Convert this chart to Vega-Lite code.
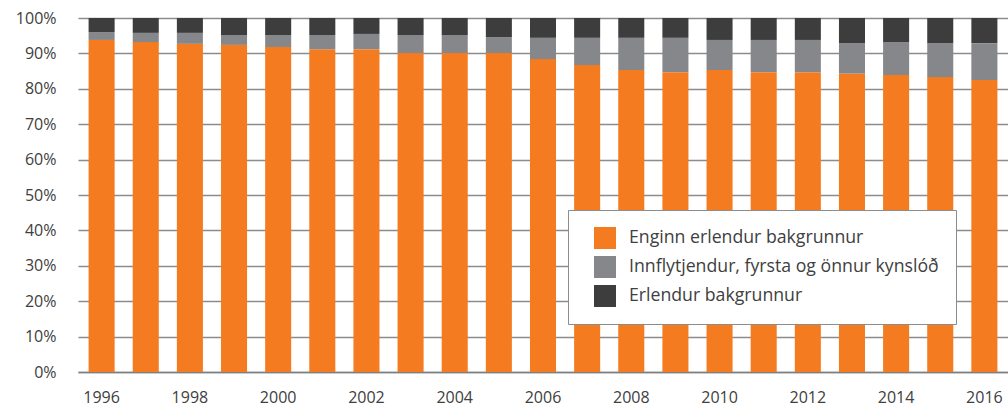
{
  "$schema": "https://vega.github.io/schema/vega-lite/v6.json",
  "autosize": {"type": "none"},
  "padding": {"left": 78, "top": 18, "right": 0, "bottom": 36},
  "width": 930,
  "height": 354,
  "background": "white",
  "config": {
    "view": {"stroke": null},
    "font": "Open Sans",
    "axis": {"labelFont": "Open Sans", "labelColor": "#404040", "labelFontSize": 16}
  },
  "data": {
    "values": [
      {"year": 1996, "cat": "Enginn erlendur bakgrunnur", "v": 93.8},
      {"year": 1996, "cat": "Innflytjendur, fyrsta og önnur kynslóð", "v": 2.2},
      {"year": 1996, "cat": "Erlendur bakgrunnur", "v": 4.0},
      {"year": 1997, "cat": "Enginn erlendur bakgrunnur", "v": 93.2},
      {"year": 1997, "cat": "Innflytjendur, fyrsta og önnur kynslóð", "v": 2.6},
      {"year": 1997, "cat": "Erlendur bakgrunnur", "v": 4.2},
      {"year": 1998, "cat": "Enginn erlendur bakgrunnur", "v": 92.7},
      {"year": 1998, "cat": "Innflytjendur, fyrsta og önnur kynslóð", "v": 3.1},
      {"year": 1998, "cat": "Erlendur bakgrunnur", "v": 4.2},
      {"year": 1999, "cat": "Enginn erlendur bakgrunnur", "v": 92.4},
      {"year": 1999, "cat": "Innflytjendur, fyrsta og önnur kynslóð", "v": 2.8},
      {"year": 1999, "cat": "Erlendur bakgrunnur", "v": 4.8},
      {"year": 2000, "cat": "Enginn erlendur bakgrunnur", "v": 91.8},
      {"year": 2000, "cat": "Innflytjendur, fyrsta og önnur kynslóð", "v": 3.4},
      {"year": 2000, "cat": "Erlendur bakgrunnur", "v": 4.8},
      {"year": 2001, "cat": "Enginn erlendur bakgrunnur", "v": 91.2},
      {"year": 2001, "cat": "Innflytjendur, fyrsta og önnur kynslóð", "v": 4.0},
      {"year": 2001, "cat": "Erlendur bakgrunnur", "v": 4.8},
      {"year": 2002, "cat": "Enginn erlendur bakgrunnur", "v": 91.2},
      {"year": 2002, "cat": "Innflytjendur, fyrsta og önnur kynslóð", "v": 4.3},
      {"year": 2002, "cat": "Erlendur bakgrunnur", "v": 4.5},
      {"year": 2003, "cat": "Enginn erlendur bakgrunnur", "v": 90.1},
      {"year": 2003, "cat": "Innflytjendur, fyrsta og önnur kynslóð", "v": 5.1},
      {"year": 2003, "cat": "Erlendur bakgrunnur", "v": 4.8},
      {"year": 2004, "cat": "Enginn erlendur bakgrunnur", "v": 90.1},
      {"year": 2004, "cat": "Innflytjendur, fyrsta og önnur kynslóð", "v": 5.1},
      {"year": 2004, "cat": "Erlendur bakgrunnur", "v": 4.8},
      {"year": 2005, "cat": "Enginn erlendur bakgrunnur", "v": 90.1},
      {"year": 2005, "cat": "Innflytjendur, fyrsta og önnur kynslóð", "v": 4.5},
      {"year": 2005, "cat": "Erlendur bakgrunnur", "v": 5.4},
      {"year": 2006, "cat": "Enginn erlendur bakgrunnur", "v": 88.4},
      {"year": 2006, "cat": "Innflytjendur, fyrsta og önnur kynslóð", "v": 6.0},
      {"year": 2006, "cat": "Erlendur bakgrunnur", "v": 5.6},
      {"year": 2007, "cat": "Enginn erlendur bakgrunnur", "v": 86.7},
      {"year": 2007, "cat": "Innflytjendur, fyrsta og önnur kynslóð", "v": 7.7},
      {"year": 2007, "cat": "Erlendur bakgrunnur", "v": 5.6},
      {"year": 2008, "cat": "Enginn erlendur bakgrunnur", "v": 85.3},
      {"year": 2008, "cat": "Innflytjendur, fyrsta og önnur kynslóð", "v": 9.1},
      {"year": 2008, "cat": "Erlendur bakgrunnur", "v": 5.6},
      {"year": 2009, "cat": "Enginn erlendur bakgrunnur", "v": 84.7},
      {"year": 2009, "cat": "Innflytjendur, fyrsta og önnur kynslóð", "v": 9.7},
      {"year": 2009, "cat": "Erlendur bakgrunnur", "v": 5.6},
      {"year": 2010, "cat": "Enginn erlendur bakgrunnur", "v": 85.3},
      {"year": 2010, "cat": "Innflytjendur, fyrsta og önnur kynslóð", "v": 8.5},
      {"year": 2010, "cat": "Erlendur bakgrunnur", "v": 6.2},
      {"year": 2011, "cat": "Enginn erlendur bakgrunnur", "v": 84.7},
      {"year": 2011, "cat": "Innflytjendur, fyrsta og önnur kynslóð", "v": 9.1},
      {"year": 2011, "cat": "Erlendur bakgrunnur", "v": 6.2},
      {"year": 2012, "cat": "Enginn erlendur bakgrunnur", "v": 84.7},
      {"year": 2012, "cat": "Innflytjendur, fyrsta og önnur kynslóð", "v": 9.1},
      {"year": 2012, "cat": "Erlendur bakgrunnur", "v": 6.2},
      {"year": 2013, "cat": "Enginn erlendur bakgrunnur", "v": 84.3},
      {"year": 2013, "cat": "Innflytjendur, fyrsta og önnur kynslóð", "v": 8.6},
      {"year": 2013, "cat": "Erlendur bakgrunnur", "v": 7.1},
      {"year": 2014, "cat": "Enginn erlendur bakgrunnur", "v": 83.9},
      {"year": 2014, "cat": "Innflytjendur, fyrsta og önnur kynslóð", "v": 9.3},
      {"year": 2014, "cat": "Erlendur bakgrunnur", "v": 6.8},
      {"year": 2015, "cat": "Enginn erlendur bakgrunnur", "v": 83.3},
      {"year": 2015, "cat": "Innflytjendur, fyrsta og önnur kynslóð", "v": 9.6},
      {"year": 2015, "cat": "Erlendur bakgrunnur", "v": 7.1},
      {"year": 2016, "cat": "Enginn erlendur bakgrunnur", "v": 82.5},
      {"year": 2016, "cat": "Innflytjendur, fyrsta og önnur kynslóð", "v": 10.4},
      {"year": 2016, "cat": "Erlendur bakgrunnur", "v": 7.1}
    ]
  },
  "transform": [
    {"calculate": "indexof(['Enginn erlendur bakgrunnur', 'Innflytjendur, fyrsta og önnur kynslóð', 'Erlendur bakgrunnur'], datum.cat)", "as": "catOrder"}
  ],
  "mark": {"type": "bar"},
  "encoding": {
    "x": {
      "field": "year",
      "type": "ordinal",
      "title": null,
      "scale": {"paddingInner": 0.41, "paddingOuter": 0.24},
      "axis": {
        "labelAngle": 0,
        "ticks": false,
        "domain": true,
        "domainColor": "#808080",
        "domainWidth": 1.5,
        "labelPadding": 17,
        "labelExpr": "datum.value % 2 == 0 ? datum.label : ''"
      }
    },
    "y": {
      "field": "v",
      "type": "quantitative",
      "stack": "normalize",
      "title": null,
      "scale": {"domain": [0, 1]},
      "axis": {
        "values": [0, 0.1, 0.2, 0.3, 0.4, 0.5, 0.6, 0.7, 0.8, 0.9, 1],
        "format": ".0%",
        "ticks": false,
        "domain": false,
        "grid": true,
        "gridColor": "#8c8c8c",
        "gridWidth": 1.5,
        "labelPadding": 22
      }
    },
    "color": {
      "field": "cat",
      "type": "nominal",
      "scale": {
        "domain": ["Enginn erlendur bakgrunnur", "Innflytjendur, fyrsta og önnur kynslóð", "Erlendur bakgrunnur"],
        "range": ["#F47B20", "#86878A", "#3D3D3D"]
      },
      "legend": {
        "title": null,
        "orient": "none",
        "legendX": 490,
        "legendY": 192,
        "symbolType": "square",
        "symbolSize": 484,
        "symbolStrokeWidth": 0,
        "symbolOffset": 9,
        "labelFontSize": 17.7,
        "labelFont": "Open Sans",
        "labelColor": "#404040",
        "labelOffset": 13,
        "labelLimit": 400,
        "rowPadding": 7,
        "padding": 17,
        "strokeColor": "#8c8c8c",
        "fillColor": "white"
      }
    },
    "order": {"field": "catOrder", "type": "quantitative", "sort": "ascending"}
  }
}
